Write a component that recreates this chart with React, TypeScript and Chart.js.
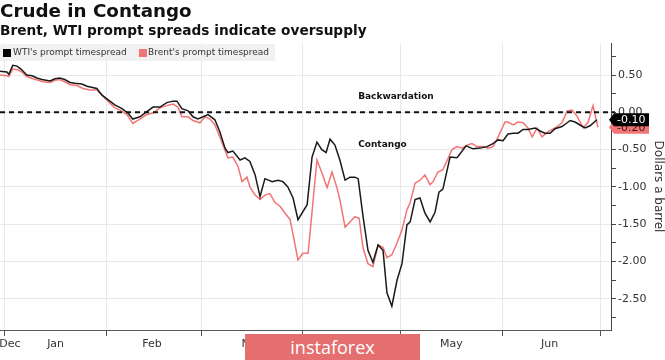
import React, { useEffect, useRef } from "react";
import { Chart, registerables } from "chart.js";

Chart.register(...registerables);

const TITLE = "Crude in Contango";
const SUBTITLE = "Brent, WTI prompt spreads indicate oversupply";
const WTI_LABEL = "WTI's prompt timespread";
const BRENT_LABEL = "Brent's prompt timespread";
const Y_TITLE = "Dollars a barrel";
const WATERMARK = "instaforex";

// x values: days counted from 1 Jan 2020
const wtiDays = [-1.5, 0.6, 1.2, 2.4, 3.7, 4.9, 6.7, 8.3, 9.8, 11.3, 13.8, 15.3, 16.8, 18.3, 19.9, 21.4, 23.5, 25.1, 28.1, 29.7, 31.5, 33.6, 35.8, 37.6, 39.1, 41.3, 43.4, 45.3, 47.4, 49.5, 51.4, 52.6, 54.1, 56.0, 57.5, 59.0, 60.6, 62.1, 64.2, 65.7, 67.3, 68.2, 69.7, 71.9, 73.4, 74.9, 76.5, 78.0, 79.5, 81.7, 83.5, 85.0, 86.5, 88.1, 89.6, 92.4, 93.9, 95.4, 96.9, 98.2, 99.4, 100.9, 102.4, 104.0, 105.5, 107.0, 108.0, 109.5, 111.0, 112.5, 114.1, 115.6, 116.8, 118.3, 119.9, 121.4, 122.9, 123.9, 125.4, 126.9, 128.4, 130.0, 131.5, 132.7, 133.9, 136.1, 138.2, 139.1, 141.0, 143.1, 145.3, 147.4, 149.2, 150.8, 152.3, 153.8, 155.4, 156.9, 158.4, 159.9, 162.1, 163.6, 165.1, 166.7, 168.2, 170.3, 171.9, 172.8, 174.3, 175.8, 177.4, 178.9, 181.0];
const wtiValues = [0.55, 0.54, 0.51, 0.63, 0.62, 0.58, 0.50, 0.49, 0.46, 0.44, 0.42, 0.45, 0.46, 0.44, 0.40, 0.39, 0.38, 0.35, 0.32, 0.23, 0.17, 0.10, 0.05, -0.01, -0.09, -0.06, 0.01, 0.07, 0.07, 0.13, 0.15, 0.15, 0.05, 0.02, -0.06, -0.09, -0.06, -0.03, -0.10, -0.26, -0.48, -0.54, -0.52, -0.64, -0.61, -0.66, -0.84, -1.13, -0.89, -0.93, -0.91, -0.93, -1.00, -1.15, -1.44, -1.24, -0.60, -0.40, -0.50, -0.54, -0.36, -0.44, -0.64, -0.91, -0.87, -0.87, -0.89, -1.40, -1.85, -2.01, -1.78, -1.85, -2.42, -2.60, -2.25, -2.03, -1.51, -1.47, -1.17, -1.15, -1.35, -1.47, -1.34, -1.07, -1.03, -0.60, -0.61, -0.56, -0.45, -0.49, -0.48, -0.46, -0.42, -0.37, -0.38, -0.29, -0.28, -0.28, -0.23, -0.23, -0.21, -0.25, -0.28, -0.28, -0.22, -0.19, -0.14, -0.11, -0.13, -0.17, -0.21, -0.18, -0.10];

const brentDays = [-1.5, 0.6, 1.2, 2.4, 4.0, 5.2, 6.7, 8.6, 11.6, 13.8, 15.3, 16.8, 18.3, 19.9, 22.0, 23.9, 26.0, 28.1, 29.7, 31.5, 33.6, 35.2, 37.3, 39.1, 41.3, 43.4, 45.3, 47.4, 49.5, 51.4, 52.9, 54.1, 56.0, 57.5, 59.6, 61.2, 62.7, 64.2, 65.7, 68.2, 69.7, 71.3, 72.5, 74.0, 74.9, 76.5, 78.0, 79.5, 81.0, 82.6, 84.1, 85.6, 87.2, 88.1, 89.6, 91.1, 92.7, 95.4, 96.9, 98.5, 100.0, 101.5, 102.4, 104.0, 105.5, 107.0, 108.3, 109.5, 111.0, 112.5, 114.1, 115.6, 116.8, 118.3, 119.9, 121.4, 122.9, 123.9, 125.4, 126.9, 128.4, 130.0, 130.9, 132.4, 133.9, 136.7, 138.2, 139.8, 141.3, 142.8, 144.3, 146.2, 147.7, 149.2, 150.8, 152.9, 153.8, 155.4, 156.9, 158.4, 159.9, 161.2, 162.7, 164.2, 166.1, 168.2, 170.3, 171.9, 173.4, 174.9, 176.8, 178.3, 179.8, 181.3];
const brentValues = [0.50, 0.49, 0.48, 0.58, 0.57, 0.54, 0.48, 0.45, 0.41, 0.40, 0.43, 0.44, 0.41, 0.37, 0.36, 0.32, 0.30, 0.30, 0.23, 0.15, 0.06, 0.03, -0.03, -0.15, -0.09, -0.03, -0.01, 0.06, 0.09, 0.11, 0.07, -0.06, -0.06, -0.11, -0.14, -0.06, -0.09, -0.17, -0.33, -0.61, -0.60, -0.73, -0.93, -0.87, -1.00, -1.11, -1.17, -1.11, -1.09, -1.21, -1.26, -1.35, -1.44, -1.64, -1.98, -1.89, -1.89, -0.64, -0.81, -1.01, -0.80, -1.01, -1.17, -1.54, -1.47, -1.40, -1.42, -1.82, -2.03, -2.07, -1.78, -1.81, -1.95, -1.91, -1.75, -1.58, -1.31, -1.21, -0.95, -0.91, -0.84, -0.97, -0.93, -0.80, -0.77, -0.50, -0.46, -0.48, -0.44, -0.42, -0.46, -0.46, -0.48, -0.46, -0.33, -0.13, -0.13, -0.17, -0.13, -0.14, -0.21, -0.33, -0.21, -0.33, -0.26, -0.21, -0.14, 0.02, 0.03, -0.05, -0.21, -0.13, 0.09, -0.20];

const monthStartDays = [0, 31, 60, 91, 121, 152, 182];
const monthLabelDays = [1.5, 15.5, 45, 75.5, 106, 136.5, 166.5];
const monthLabels = ["Dec", "Jan", "Feb", "Mar", "Apr", "May", "Jun"];
const yTickValues = [0.75, 0.5, 0.25, 0, -0.25, -0.5, -0.75, -1, -1.25, -1.5, -1.75, -2, -2.25, -2.5, -2.75];
const X_MIN = -1.5;
const X_MAX = 185.3;
const Y_MIN = -2.92;
const Y_MAX = 0.93;

const noteTexts = ["Backwardation", "Contango"];
const noteDays = [108, 108];
const noteValues = [0.21, -0.44];

const WTI_COLOR = "#1a1a1a";
const BRENT_COLOR = "#f27474";
const FONT = '"DejaVu Sans", sans-serif';

const overlayPlugin = {
  id: "overlay",
  afterDatasetsDraw(chart: any) {
    const { ctx, chartArea, scales } = chart;
    const xs = scales.x;
    const ys = scales.y;
    const y0 = ys.getPixelForValue(0);
    ctx.save();
    ctx.strokeStyle = "#111";
    ctx.lineWidth = 2;
    ctx.setLineDash([5, 4]);
    ctx.beginPath();
    ctx.moveTo(chartArea.left, y0);
    ctx.lineTo(chartArea.right + 4, y0);
    ctx.stroke();
    ctx.setLineDash([]);
    ctx.font = `bold 9px ${FONT}`;
    ctx.fillStyle = "#111";
    ctx.textBaseline = "middle";
    ctx.textAlign = "left";
    noteTexts.forEach((t, i) => {
      ctx.fillText(t, xs.getPixelForValue(noteDays[i]), ys.getPixelForValue(noteValues[i]));
    });
    ctx.restore();
  },
  afterDraw(chart: any) {
    const { ctx, chartArea, scales } = chart;
    const ys = scales.y;
    const items = [
      { v: brentValues[brentValues.length - 1], bg: BRENT_COLOR, fg: "#3a1a1a" },
      { v: wtiValues[wtiValues.length - 1], bg: "#000", fg: "#fff" },
    ];
    ctx.save();
    items.forEach((it) => {
      const y = ys.getPixelForValue(it.v);
      const h = 13;
      const tip = chartArea.right - 2;
      const l = chartArea.right + 3;
      const r = chartArea.right + 38;
      ctx.fillStyle = it.bg;
      ctx.beginPath();
      ctx.moveTo(tip, y);
      ctx.lineTo(l, y - h / 2);
      ctx.lineTo(r, y - h / 2);
      ctx.lineTo(r, y + h / 2);
      ctx.lineTo(l, y + h / 2);
      ctx.closePath();
      ctx.fill();
      ctx.fillStyle = it.fg;
      ctx.font = `11px ${FONT}`;
      ctx.textAlign = "left";
      ctx.textBaseline = "middle";
      ctx.fillText(it.v.toFixed(2), l + 3, y + 0.5);
    });
    ctx.restore();
  },
};

export default function App() {
  const ref = useRef<HTMLCanvasElement>(null);
  useEffect(() => {
    if (!ref.current) return;
    const chart = new Chart(ref.current, {
      type: "line",
      data: {
        datasets: [
          {
            label: WTI_LABEL,
            data: wtiDays.map((d, i) => ({ x: d, y: wtiValues[i] })),
            borderColor: WTI_COLOR,
            borderWidth: 1.5,
            pointRadius: 0,
            tension: 0,
          },
          {
            label: BRENT_LABEL,
            data: brentDays.map((d, i) => ({ x: d, y: brentValues[i] })),
            borderColor: BRENT_COLOR,
            borderWidth: 1.5,
            pointRadius: 0,
            tension: 0,
          },
        ],
      },
      options: {
        animation: false,
        responsive: false,
        maintainAspectRatio: false,
        layout: { padding: { top: 43, left: 0, right: 0, bottom: 0 } },
        plugins: { legend: { display: false }, tooltip: { enabled: false }, title: { display: false } },
        scales: {
          x: {
            type: "linear",
            position: "bottom",
            min: X_MIN,
            max: X_MAX,
            afterBuildTicks: (s: any) => {
              s.ticks = monthStartDays.map((v) => ({ value: v }));
            },
            afterFit: (s: any) => {
              s.height = 0;
              s.paddingLeft = 0;
              s.paddingRight = 0;
            },
            grid: { color: "#e8e8e8", tickColor: "#555", tickLength: 6, drawTicks: true },
            border: { color: "#555", width: 1 },
            ticks: { display: false },
          },
          x2: {
            type: "linear",
            position: "bottom",
            min: X_MIN,
            max: X_MAX,
            afterBuildTicks: (s: any) => {
              s.ticks = monthLabelDays.map((v) => ({ value: v }));
            },
            afterFit: (s: any) => {
              s.height = 30;
              s.paddingLeft = 0;
              s.paddingRight = 0;
            },
            grid: { display: false, drawTicks: false },
            border: { display: false },
            ticks: {
              padding: 8,
              maxRotation: 0,
              autoSkip: false,
              color: "#333",
              font: { family: FONT, size: 11 },
              callback: (v: any) => {
                const i = monthLabelDays.indexOf(Number(v));
                return i >= 0 ? monthLabels[i] : "";
              },
            },
          },
          y: {
            type: "linear",
            position: "right",
            min: Y_MIN,
            max: Y_MAX,
            afterBuildTicks: (s: any) => {
              s.ticks = yTickValues.map((v) => ({ value: v }));
            },
            afterFit: (s: any) => {
              s.width = 54;
              s.paddingTop = 0;
              s.paddingBottom = 0;
            },
            grid: {
              color: (c: any) => (c.tick && Math.abs((c.tick.value * 2) % 1) < 1e-6 ? "#e8e8e8" : "rgba(0,0,0,0)"),
              tickColor: "#444",
              tickLength: 5,
            },
            border: { color: "#444", width: 1 },
            ticks: {
              padding: 2,
              autoSkip: false,
              color: "#333",
              font: { family: FONT, size: 11 },
              callback: (v: any) => (Math.abs((Number(v) * 2) % 1) < 1e-6 ? Number(v).toFixed(2) : ""),
            },
            title: {
              display: true,
              text: Y_TITLE,
              color: "#333",
              font: { family: FONT, size: 12 },
              padding: { top: 0, bottom: 0 },
            },
          },
        },
      },
      plugins: [overlayPlugin],
    } as any);
    return () => chart.destroy();
  }, []);

  return (
    <div style={{ position: "fixed", left: 0, top: 0, width: 665, height: 360, background: "#fff", overflow: "hidden" }}>
      <canvas ref={ref} width={665} height={360} style={{ position: "absolute", left: 0, top: 0 }} />
      <div style={{ position: "absolute", left: 0, top: 2, font: `bold 18.3px ${FONT}`, lineHeight: "18px", color: "#111", whiteSpace: "nowrap" }}>{TITLE}</div>
      <div style={{ position: "absolute", left: 0, top: 24, font: `bold 13.7px ${FONT}`, lineHeight: "13px", color: "#111", whiteSpace: "nowrap" }}>{SUBTITLE}</div>
      <div style={{ position: "absolute", left: 0, top: 44, width: 275, height: 17, background: "rgba(238,238,238,0.85)", font: `9px ${FONT}`, color: "#333", whiteSpace: "nowrap" }}>
        <span style={{ position: "absolute", left: 3, top: 5, width: 8, height: 8, background: "#000" }} />
        <span style={{ position: "absolute", left: 13, top: 3, lineHeight: "11px" }}>{WTI_LABEL}</span>
        <span style={{ position: "absolute", left: 139, top: 5, width: 8, height: 8, background: BRENT_COLOR }} />
        <span style={{ position: "absolute", left: 148, top: 3, lineHeight: "11px" }}>{BRENT_LABEL}</span>
      </div>
      <div style={{ position: "absolute", left: 245, top: 334, width: 175, height: 26, background: "#e56e6e", color: "#fff", font: `18px "Open Sans", sans-serif`, lineHeight: "26px", textAlign: "center" }}>{WATERMARK}</div>
    </div>
  );
}
